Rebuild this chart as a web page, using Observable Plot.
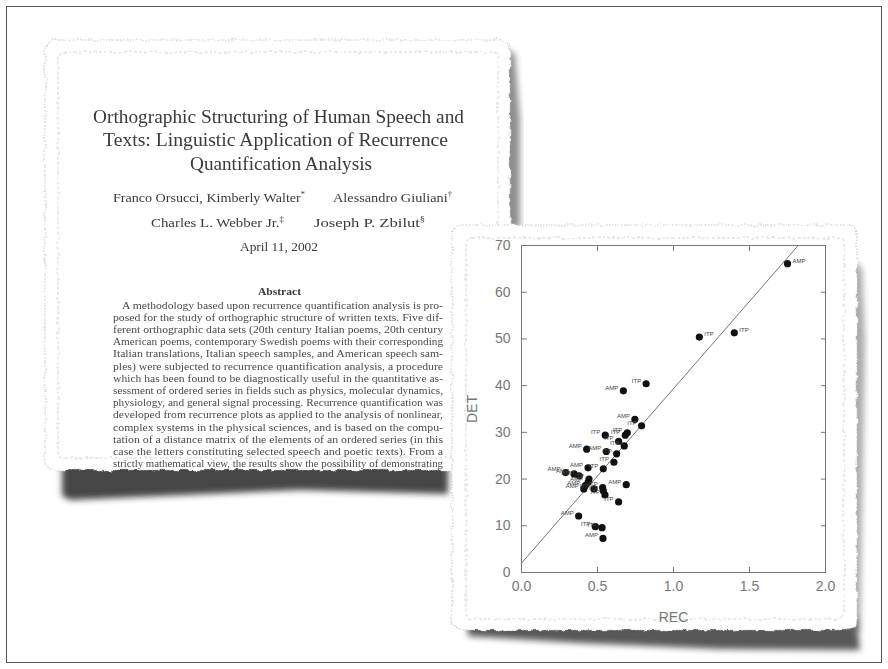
<!DOCTYPE html>
<html><head><meta charset="utf-8">
<script src="https://cdn.jsdelivr.net/npm/d3@7"></script>
<script src="https://cdn.jsdelivr.net/npm/@observablehq/plot@0.6"></script>
<style>
html,body{margin:0;padding:0;background:#fff;}
#stage{position:relative;width:888px;height:669px;overflow:hidden;background:#fff;}
#bg{position:absolute;left:0;top:0;}
#chart{position:absolute;left:450px;top:225px;}
</style></head><body>
<div id="stage">
<svg id="bg" width="888" height="669" xmlns="http://www.w3.org/2000/svg">
  <defs>
    <filter id="rough" x="-3%" y="-3%" width="106%" height="106%">
      <feTurbulence type="fractalNoise" baseFrequency="0.12" numOctaves="2" seed="4" result="n"/>
      <feDisplacementMap in="SourceGraphic" in2="n" scale="5" xChannelSelector="R" yChannelSelector="G"/>
    </filter>
    <filter id="blur3" x="-20%" y="-20%" width="140%" height="140%"><feGaussianBlur stdDeviation="3"/></filter>
    <filter id="soft"><feGaussianBlur stdDeviation="0.3"/></filter>
  </defs>
  <rect x="6.5" y="6.5" width="875" height="656" fill="none" stroke="#555" stroke-width="1"/>
  <!-- left sheet shadows -->
  <path d="M62 462 L448 462 L448 494 L300 490 L160 496 L70 500 L62 496 Z" fill="#333" filter="url(#blur3)" opacity="0.9"/>
  <path d="M500 46 L515 54 L520 120 L520 228 L500 228 Z" fill="#444" filter="url(#blur3)" opacity="0.6"/>
  <!-- left sheet -->
  <g filter="url(#rough)">
    <rect x="45" y="40" width="465" height="430" rx="10" fill="#fff" stroke="#c8c8c8" stroke-width="1.2" stroke-dasharray="1.5 1.5"/>
    <rect x="58" y="52" width="440" height="406" rx="6" fill="none" stroke="#d2d2d2" stroke-width="1" stroke-dasharray="3 2"/>
  </g>
  <g id="paperText" filter="url(#soft)"></g>
  <!-- right sheet shadows -->
  <path d="M468 616 L856 616 L860 650 L720 649 L580 643 L468 636 Z" fill="#3a3a3a" filter="url(#blur3)" opacity="0.85"/>
  <path d="M846 255 L862 268 L865 340 L860 632 L846 632 Z" fill="#666" filter="url(#blur3)" opacity="0.55"/>
  <!-- right sheet -->
  <g filter="url(#rough)">
    <rect x="452" y="225" width="405" height="405" rx="10" fill="#fff" stroke="#c8c8c8" stroke-width="1.2" stroke-dasharray="1.5 1.5"/>
    <rect x="466" y="238" width="378" height="381" rx="6" fill="none" stroke="#d2d2d2" stroke-width="1" stroke-dasharray="3 2"/>
  </g>
</svg>
<div id="chart"></div>
</div>
<script>
// ---- paper text ----
const titleLines = [
  "Orthographic Structuring of Human Speech and",
  "Texts: Linguistic Application of Recurrence",
  "Quantification Analysis"
];
const authorsA = ["Franco Orsucci, Kimberly Walter", "*"];
const authorsB = ["Alessandro Giuliani", "†"];
const authorsC = ["Charles L. Webber Jr.", "‡"];
const authorsD = ["Joseph P. Zbilut", "§"];
const dateLine = "April 11, 2002";
const abstractHead = "Abstract";
const abstractLines = [
  "A methodology based upon recurrence quantification analysis is pro-",
  "posed for the study of orthographic structure of written texts. Five dif-",
  "ferent orthographic data sets (20th century Italian poems, 20th century",
  "American poems, contemporary Swedish poems with their corresponding",
  "Italian translations, Italian speech samples, and American speech sam-",
  "ples) were subjected to recurrence quantification analysis, a procedure",
  "which has been found to be diagnostically useful in the quantitative as-",
  "sessment of ordered series in fields such as physics, molecular dynamics,",
  "physiology, and general signal processing. Recurrence quantification was",
  "developed from recurrence plots as applied to the analysis of nonlinear,",
  "complex systems in the physical sciences, and is based on the compu-",
  "tation of a distance matrix of the elements of an ordered series (in this",
  "case the letters constituting selected speech and poetic texts). From a",
  "strictly mathematical view, the results show the possibility of demonstrating"
];

const NS = "http://www.w3.org/2000/svg";
const g = document.getElementById("paperText");
function addText(str, x0, x1, y, size, opts = {}) {
  const t = document.createElementNS(NS, "text");
  t.setAttribute("x", x0);
  t.setAttribute("y", y);
  t.setAttribute("font-family", "Liberation Serif, DejaVu Serif, serif");
  t.setAttribute("font-size", size);
  t.setAttribute("fill", opts.fill || "#3a3a3a");
  if (opts.bold) t.setAttribute("font-weight", "bold");
  t.setAttribute("textLength", x1 - x0);
  t.setAttribute("lengthAdjust", "spacingAndGlyphs");
  if (Array.isArray(str)) {
    t.appendChild(document.createTextNode(str[0]));
    const s = document.createElementNS(NS, "tspan");
    s.setAttribute("font-size", size * 0.6);
    s.setAttribute("dy", -size * 0.4);
    s.textContent = str[1];
    t.appendChild(s);
  } else t.textContent = str;
  g.appendChild(t);
}
const titleX = [[93, 464], [103, 448], [190, 372]];
titleLines.forEach((s, i) => addText(s, titleX[i][0], titleX[i][1], 123 + 23.3 * i, 19));
addText(authorsA, 113, 305, 202, 12.5);
addText(authorsB, 333, 452, 202, 12.5);
addText(authorsC, 151, 284, 226.5, 12.5);
addText(authorsD, 314, 425, 226.5, 12.5);
addText(dateLine, 240, 318, 250.5, 12.5);
addText(abstractHead, 258, 301, 295, 10, {bold: true});
abstractLines.forEach((s, i) => {
  const x0 = i === 0 ? 122 : 113;
  addText(s, x0, 443, 308.5 + 12.2 * i, 10, {fill: "#4a4a4a"});
});

// ---- chart data ----
const rec = [1.75, 1.17, 1.40, 0.82, 0.67, 0.746, 0.79, 0.696, 0.683, 0.551,
             0.639, 0.676, 0.429, 0.558, 0.626, 0.608, 0.438, 0.538, 0.29, 0.346,
             0.38, 0.444, 0.438, 0.42, 0.41, 0.477, 0.534, 0.538, 0.549, 0.639,
             0.689, 0.376, 0.486, 0.53, 0.536];
const det = [66.1, 50.4, 51.3, 40.4, 38.9, 32.8, 31.4, 29.9, 29.4, 29.4,
             28.1, 27.1, 26.4, 25.9, 25.4, 23.6, 22.4, 22.2, 21.4, 21.1,
             20.7, 20.0, 19.3, 18.6, 17.9, 17.9, 18.2, 17.5, 16.6, 15.1,
             18.8, 12.1, 9.8, 9.6, 7.3];
const group = ["AMP", "ITP", "ITP", "ITP", "AMP", "AMP", "ITP", "ITP", "ITP", "ITP",
               "ITP", "ITP", "AMP", "AMP", "ITP", "ITP", "AMP", "ITP", "AMP", "AMP",
               "AMP", "ITP", "AMP", "AMP", "AMP", "ITP", "ITP", "ITP", "ITP", "ITP",
               "AMP", "AMP", "ITP", "ITP", "AMP"];
const fitRec = [0, 1.82];
const fitDet = [2, 70];
const xTicks = [0, 0.5, 1.0, 1.5, 2.0];
const yTicks = [0, 10, 20, 30, 40, 50, 60, 70];

const points = rec.map((r, i) => ({rec: r, det: det[i], group: group[i]}));
const fit = fitRec.map((r, i) => ({rec: r, det: fitDet[i]}));

const chart = Plot.plot({
  width: 400, height: 420,
  marginLeft: 71, marginRight: 25, marginTop: 20, marginBottom: 73,
  style: {background: "transparent", overflow: "visible", fontFamily: "Liberation Sans, Arial, sans-serif", color: "#777"},
  x: {domain: [0, 2]},
  y: {domain: [0, 70]},
  marks: [
    Plot.frame({stroke: "#777"}),
    Plot.axisX({anchor: "bottom", ticks: xTicks, tickSize: -5, tickPadding: 14, tickFormat: d3.format(".1f"),
      fontSize: 14, label: "REC", labelAnchor: "center", labelArrow: "none", labelOffset: 49}),
    Plot.axisX({anchor: "top", ticks: xTicks, tickSize: -5, tickFormat: () => "", label: null}),
    Plot.axisY({anchor: "left", ticks: yTicks, tickSize: -6, tickPadding: 17, fontSize: 14,
      label: "DET", labelAnchor: "center", labelArrow: "none", labelOffset: 54}),
    Plot.axisY({anchor: "right", ticks: yTicks, tickSize: -5, tickFormat: () => "", label: null}),
    Plot.line(fit, {x: "rec", y: "det", stroke: "#777", strokeWidth: 1}),
    Plot.dot(points, {x: "rec", y: "det", r: 3.6, fill: "#111", stroke: "none"}),
    Plot.text(points, {filter: d => d.rec <= 1, x: "rec", y: "det", text: "group", textAnchor: "end",
      dx: -5, dy: -3, fontSize: 6, fill: "#444"}),
    Plot.text(points, {filter: d => d.rec > 1, x: "rec", y: "det", text: "group", textAnchor: "start",
      dx: 5, dy: -3, fontSize: 6, fill: "#444"})
  ]
});
document.getElementById("chart").appendChild(chart);
</script>
</body></html>
